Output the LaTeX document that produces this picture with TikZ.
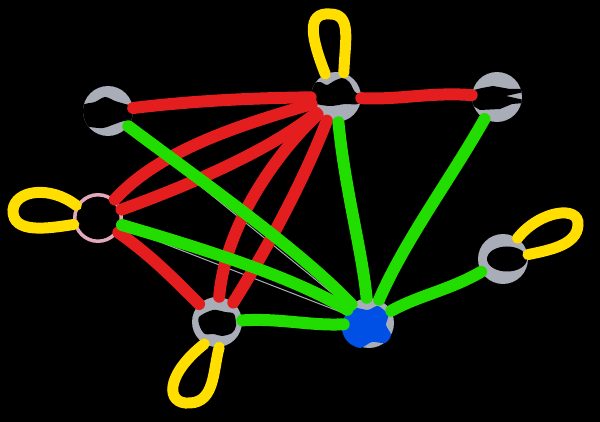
\documentclass[tikz,border=0pt]{standalone}
\definecolor{ngray}{RGB}{168,173,183}
\definecolor{ered}{RGB}{228,30,30}
\definecolor{egreen}{RGB}{34,222,0}
\definecolor{eyel}{RGB}{255,222,0}
\definecolor{eblue}{RGB}{0,80,230}
\definecolor{epink}{RGB}{228,168,188}
\tikzset{
  gnode/.style={circle,fill=ngray,minimum size=1cm,inner sep=0pt},
  pnode/.style={circle,fill=black,draw=epink,line width=0.07cm,minimum size=0.93cm,inner sep=0pt},
  redE/.style={draw=ered,line width=0.24cm,line cap=round},
  greenE/.style={draw=egreen,line width=0.24cm,line cap=round},
  yelE/.style={draw=eyel,line width=0.22cm,line cap=round},
  thinE/.style={draw=ngray,line width=0.02cm}
}
\begin{document}
\begin{tikzpicture}[x=0.02cm,y=-0.02cm]
\fill[black] (0,0) rectangle (600,422);
\useasboundingbox (0,0) rectangle (600,422);
% nodes
\node[gnode] (A) at (108,111) {};
\node[gnode] (B) at (336,97) {};
\node[gnode] (C) at (497,97) {};
\node[pnode] (D) at (98,218) {};
\node[gnode] (E) at (503,259) {};
\node[gnode] (F) at (217,322) {};
\node[gnode] (G) at (369,323) {};
% underlying thin edges
\draw[thinE] (A) -- (G);
\draw[thinE] (D) -- (G);
% blobs
\begin{scope}
\clip (A.center) circle (0.5cm);
\fill[black] plot[smooth cycle] coordinates {(82,106) (95,102) (105,97) (115,101) (125,104) (136,108) (136,124) (125,121) (115,124) (103,128) (90,127) (82,125)};
\end{scope}
\begin{scope}
\clip (B.center) circle (0.5cm);
\fill[black] plot[smooth cycle] coordinates {(313,84) (320,82) (327,85) (334,81) (343,78) (350,83) (355,92) (362,96) (358,104) (345,104) (330,106) (314,103) (310,94)};
\end{scope}
\begin{scope}
\clip (C.center) circle (0.5cm);
\fill[black] (470,91) -- (482,88) -- (493,86) -- (510,89) -- (524,89) -- (524,92) -- (506,96) -- (524,100) -- (524,103) -- (512,104) -- (500,109) -- (480,110) -- (470,104) -- cycle;
\end{scope}
\begin{scope}
\clip (E.center) circle (0.5cm);
\fill[black] (507,259) ellipse [x radius=0.4cm,y radius=0.25cm];
\end{scope}
\fill[black] plot[smooth cycle] coordinates {(213,310) (225,312) (234,314) (236,326) (232,333) (222,336) (214,334) (205,334) (200,327) (199,317)};
\fill[eblue] plot[smooth cycle] coordinates {(346,314) (355,308) (368,310) (378,306) (388,315) (386,325) (391,335) (385,343) (372,342) (360,348) (348,342) (342,330)};
% red edges
\draw[redE] (A) .. controls (200,100) and (260,98) .. (B);
\draw[redE] (B) .. controls (400,100) and (430,92) .. (C);
\draw[redE] (D) .. controls (160,150) and (240,125) .. (B);
\draw[redE] (D) .. controls (190,185) and (270,150) .. (B);
\draw[redE] (B) .. controls (270,160) and (225,230) .. (F);
\draw[redE] (B) .. controls (300,190) and (260,260) .. (F.50);
\draw[redE] (D) .. controls (150,255) and (170,275) .. (F);
% green edges
\draw[greenE] (A) .. controls (200,180) and (300,250) .. (G);
\draw[greenE] (D) .. controls (190,245) and (290,275) .. (G);
\draw[greenE] (F) .. controls (280,318) and (310,326) .. (G);
\draw[greenE] (B) .. controls (345,190) and (362,250) .. (G);
\draw[greenE] (C) .. controls (450,180) and (405,240) .. (G);
\draw[greenE] (E) .. controls (450,290) and (420,295) .. (G);
% loops
\draw[yelE] (B.115) .. controls (312,40) and (305,12) .. (330,14) .. controls (352,14) and (345,40) .. (B.72);
\draw[yelE] (D.150) .. controls (50,185) and (15,190) .. (13,210) .. controls (12,235) and (50,228) .. (D.195);
\draw[yelE] (F.240) .. controls (165,375) and (165,405) .. (190,403) .. controls (215,402) and (213,370) .. (F.275);
\draw[yelE] (E.55) .. controls (540,210) and (580,205) .. (578,225) .. controls (577,245) and (550,250) .. (E.10);
\end{tikzpicture}
\end{document}
